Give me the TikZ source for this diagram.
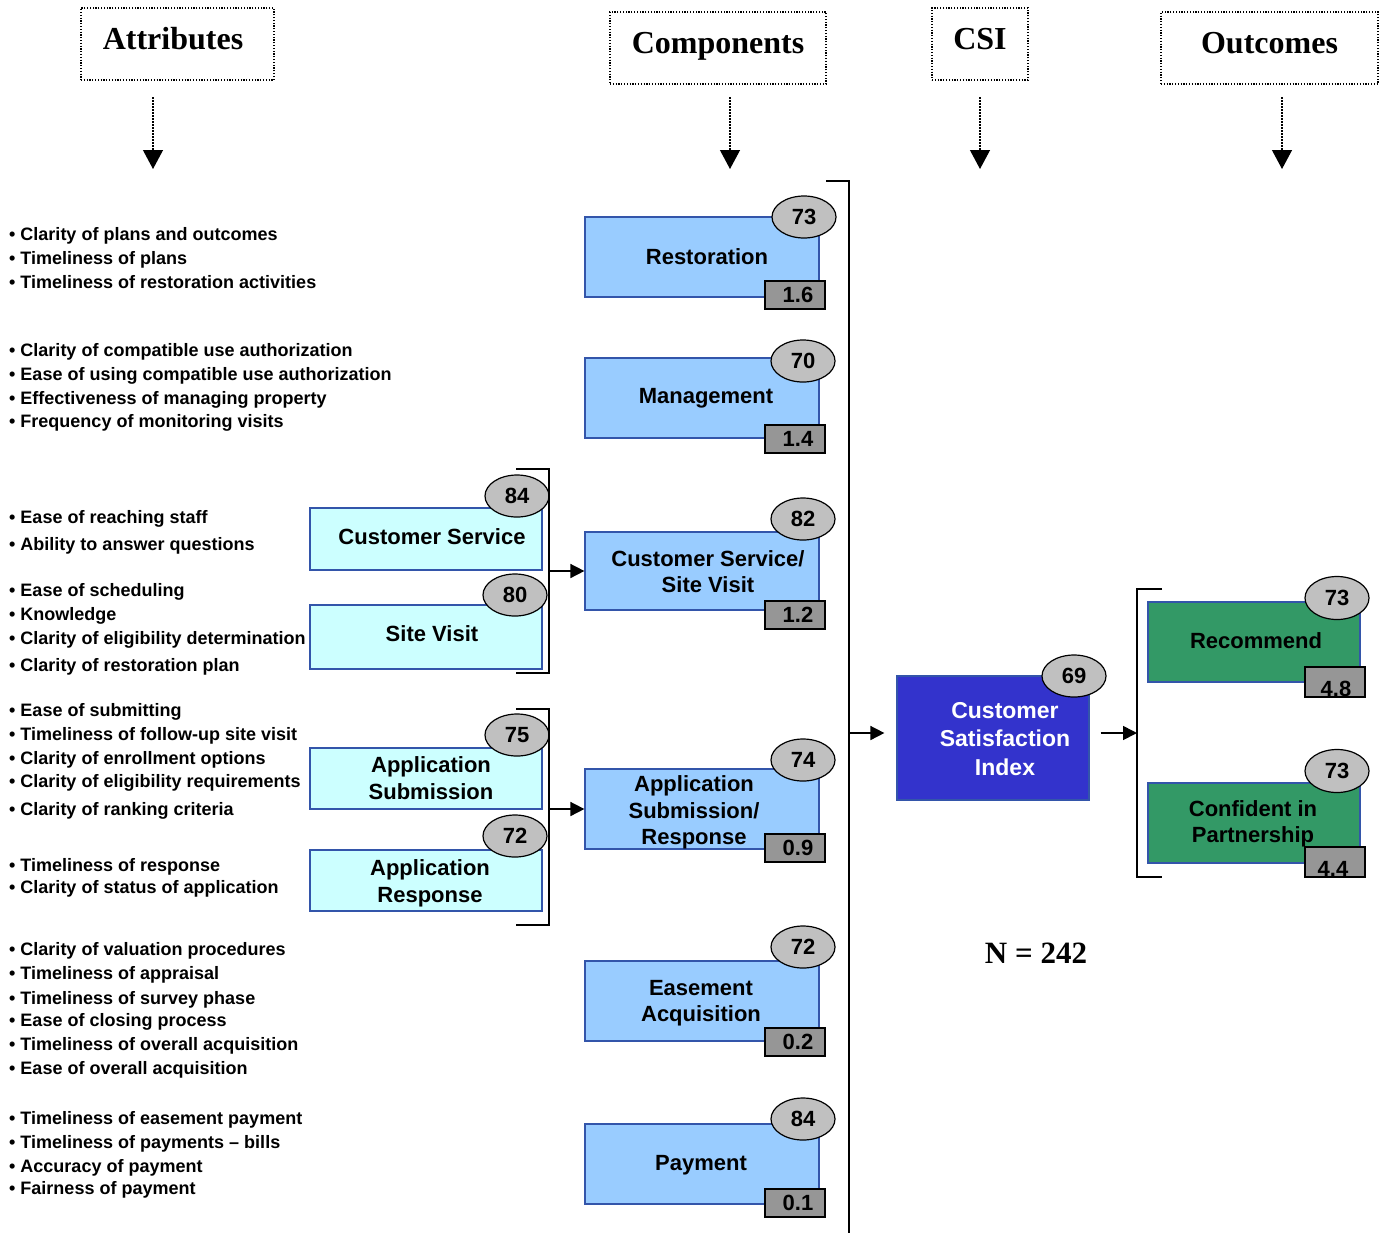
\documentclass[tikz,border=0pt]{standalone}
\usepackage{fontspec}
\setmainfont{Liberation Serif}
\setsansfont{Liberation Sans}
\usetikzlibrary{arrows.meta,shapes.geometric}
\definecolor{compblue}{RGB}{153,204,255}
\definecolor{subcyan}{RGB}{204,255,255}
\definecolor{boxedge}{RGB}{51,85,170}
\definecolor{csiblue}{RGB}{51,51,204}
\definecolor{outgreen}{RGB}{51,153,102}
\definecolor{wtgray}{RGB}{150,150,150}
\definecolor{ellgray}{RGB}{192,192,192}
\newcommand\myattrfont{\sffamily\bfseries\fontsize{18}{20}\selectfont}
\newcommand\myboxfont{\sffamily\bfseries\fontsize{22}{26.5}\selectfont}
\newcommand\mynumfont{\sffamily\bfseries\fontsize{22}{26}\selectfont}
\newcommand\myhdrfont{\rmfamily\bfseries\fontsize{32}{36}\selectfont}
% shift text visually by #1 right and #2 up, keeping its box
\newcommand\mvtxt[3]{\raisebox{#2}[\height][\depth]{\hspace*{#1}#3\hspace*{-#1}}}
\newcommand\lines[1]{\begin{tabular}{@{}c@{}}#1\end{tabular}}
\begin{document}
\begin{tikzpicture}[x=1pt,y=-1pt,
  hdr/.style={draw, line width=1.1pt, dash pattern=on 1.2pt off 1.6pt, font=\myhdrfont,
    text height=22pt, text depth=12pt, inner sep=0, minimum height=72pt},
  comp/.style={draw=boxedge, line width=1.2pt, fill=compblue, font=\myboxfont, align=center, inner sep=0},
  subbox/.style={comp, fill=subcyan, minimum width=232pt},
  score/.style={ellipse, draw, fill=ellgray, line width=1.2pt, minimum width=64pt, minimum height=42pt, inner sep=0, font=\mynumfont},
  wt/.style={draw, fill=wtgray, line width=1.5pt, minimum width=60pt, minimum height=28pt, inner sep=0, font=\mynumfont},
  attr/.style={anchor=base west, inner sep=0, font=\myattrfont},
  brk/.style={line width=1.8pt},
  conn/.style={line width=1.6pt, -{Triangle[length=14pt,width=14pt]}},
  hdrarrow/.style={line width=1.2pt, dash pattern=on 1.5pt off 1.5pt, -{Triangle[length=19pt,width=20pt]}}
]
\useasboundingbox (0,0) rectangle (1383,1232);

% headers
\node[hdr, minimum width=193pt] (hattr) at (177.5,44) {\hspace*{-9pt}Attributes};
\node[hdr, minimum width=216pt] (hcomp) at (718,48) {Components};
\node[hdr, minimum width=96pt] (hcsi) at (980,44) {CSI};
\node[hdr, minimum width=217pt] (hout) at (1269.5,48) {Outcomes};
\coordinate (sattr) at (153,97);  \coordinate (tattr) at (153,169);
\coordinate (scomp) at (730,97);  \coordinate (tcomp) at (730,169);
\coordinate (scsi) at (980,97);   \coordinate (tcsi) at (980,169);
\coordinate (sout) at (1282,97);  \coordinate (tout) at (1282,169);
\draw[hdrarrow] (sattr) -- (tattr);
\draw[hdrarrow] (scomp) -- (tcomp);
\draw[hdrarrow] (scsi) -- (tcsi);
\draw[hdrarrow] (sout) -- (tout);

% attributes
\foreach \y/\t [count=\i] in {
  233/Clarity of plans and outcomes, 257/Timeliness of plans, 281/Timeliness of restoration activities,
  349/Clarity of compatible use authorization, 373/Ease of using compatible use authorization,
  397/Effectiveness of managing property, 420/Frequency of monitoring visits,
  516/Ease of reaching staff, 543/Ability to answer questions,
  589/Ease of scheduling, 613/Knowledge, 637/Clarity of eligibility determination, 664/Clarity of restoration plan,
  709/Ease of submitting, 733/Timeliness of follow-up site visit, 757/Clarity of enrollment options,
  780/Clarity of eligibility requirements, 808/Clarity of ranking criteria,
  864/Timeliness of response, 886/Clarity of status of application,
  948/Clarity of valuation procedures, 972/Timeliness of appraisal, 997/Timeliness of survey phase,
  1019/Ease of closing process, 1043/Timeliness of overall acquisition, 1067/Ease of overall acquisition,
  1117/Timeliness of easement payment, 1141/Timeliness of payments – bills, 1165/Accuracy of payment,
  1187/Fairness of payment}
  \node[attr] (at\i) at (9,{\y+7}) {• \t};

% sub-components
\node[subbox, minimum height=62pt] (cs) at (426,539) {\mvtxt{6pt}{2pt}{Customer Service}};
\node[score] (css) at (517,496) {84};
\node[subbox, minimum height=64pt] (sv) at (426,637) {\mvtxt{6pt}{3pt}{Site Visit}};
\node[score] (svs) at (515,595) {80};
\node[subbox, minimum height=61pt] (as) at (426,778.5) {\mvtxt{5pt}{-2pt}{\lines{Application\\Submission}}};
\node[score] (ass) at (517,735) {75};
\node[subbox, minimum height=61pt] (ar) at (426,880.5) {\mvtxt{4pt}{-3pt}{\lines{Application\\Response}}};
\node[score] (ars) at (515,836) {72};

% sub brackets
\coordinate (b1a) at (516,469); \coordinate (b1b) at (549,469);
\coordinate (b1c) at (549,673); \coordinate (b1d) at (516,673);
\draw[brk] (b1a) -- (b1b) -- (b1c) -- (b1d);
\coordinate (b2a) at (516,709); \coordinate (b2b) at (549,709);
\coordinate (b2c) at (549,925); \coordinate (b2d) at (516,925);
\draw[brk] (b2a) -- (b2b) -- (b2c) -- (b2d);

% components
\node[comp, minimum width=234pt, minimum height=80pt] (rest) at (702,257) {\mvtxt{5pt}{0pt}{Restoration}};
\node[wt] (restw) at (795,295) {\mvtxt{3pt}{0pt}{1.6}};
\node[score] (rests) at (804,217) {73};
\node[comp, minimum width=234pt, minimum height=80pt] (mgmt) at (702,398) {\mvtxt{4pt}{0pt}{Management}};
\node[wt] (mgmtw) at (795,439) {\mvtxt{3pt}{0pt}{1.4}};
\node[score] (mgmts) at (803,361) {70};
\node[comp, minimum width=234pt, minimum height=78pt] (csv) at (702,571) {\mvtxt{6pt}{-3pt}{\lines{Customer Service/\\Site Visit}}};
\node[wt] (csvw) at (795,615) {\mvtxt{3pt}{0pt}{1.2}};
\node[score] (csvs) at (803,519) {82};
\node[comp, minimum width=234pt, minimum height=80pt] (app) at (702,809) {\mvtxt{-8pt}{-4pt}{\lines{Application\\Submission/\\Response}}};
\node[wt] (appw) at (795,848) {\mvtxt{3pt}{0pt}{0.9}};
\node[score] (apps) at (803,760) {74};
\node[comp, minimum width=234pt, minimum height=80pt] (ease) at (702,1001) {\mvtxt{-1pt}{-2pt}{\lines{Easement\\Acquisition}}};
\node[wt] (easew) at (795,1042) {\mvtxt{3pt}{0pt}{0.2}};
\node[score] (eases) at (803,947) {72};
\node[comp, minimum width=234pt, minimum height=80pt] (pay) at (702,1164) {\mvtxt{-1pt}{-1pt}{Payment}};
\node[wt] (payw) at (795,1203) {\mvtxt{3pt}{0pt}{0.1}};
\node[score] (pays) at (803,1119) {84};

\coordinate (j1) at (549,571);
\draw[conn] (j1) -- (csv.west);
\coordinate (j2) at (549,809);
\draw[conn] (j2) -- (app.west);

% big bracket
\coordinate (bb1) at (826,181); \coordinate (bb2) at (849,181); \coordinate (bb3) at (849,1240);
\draw[brk] (bb1) -- (bb2) -- (bb3);

% CSI
\node[draw=boxedge, line width=1.2pt, fill=csiblue, text=white, align=center, inner sep=0,
  minimum width=192pt, minimum height=124pt, font=\sffamily\bfseries\fontsize{23}{28.5}\selectfont]
  (csi) at (993,738) {\mvtxt{12pt}{-3pt}{\lines{Customer\\Satisfaction\\Index}}};
\node[score] (csis) at (1074,676) {69};
\coordinate (j3) at (849,733);
\draw[conn, shorten >=12pt] (j3) -- (j3 -| csi.west);

% outcomes bracket
\coordinate (ob1) at (1162,589); \coordinate (ob2) at (1137,589);
\coordinate (ob3) at (1137,877); \coordinate (ob4) at (1162,877);
\draw[brk] (ob1) -- (ob2) -- (ob3) -- (ob4);
\coordinate (j4) at (1137,733);
\draw[conn, shorten <=11pt] (j4 -| csi.east) -- (j4);

% outcomes
\node[comp, fill=outgreen, minimum width=212pt, minimum height=80pt] (rec) at (1254,642) {\mvtxt{2pt}{1pt}{Recommend}};
\node[wt, minimum height=30pt] (recw) at (1335,682) {\mvtxt{1pt}{-7pt}{4.8}};
\node[score, minimum height=43pt] (recs) at (1337,598) {73};
\node[comp, fill=outgreen, minimum width=212pt, minimum height=80pt] (conf) at (1254,823) {\mvtxt{-1pt}{-1pt}{\lines{Confident in\\Partnership}}};
\node[wt, minimum height=30pt] (confw) at (1335,862) {\mvtxt{-2pt}{-7pt}{4.4}};
\node[score, minimum height=43pt] (confs) at (1337,771) {73};

\node[font=\rmfamily\bfseries\fontsize{31}{36}\selectfont] (nlab) at (1036,953) {N = 242};
\end{tikzpicture}
\end{document}
